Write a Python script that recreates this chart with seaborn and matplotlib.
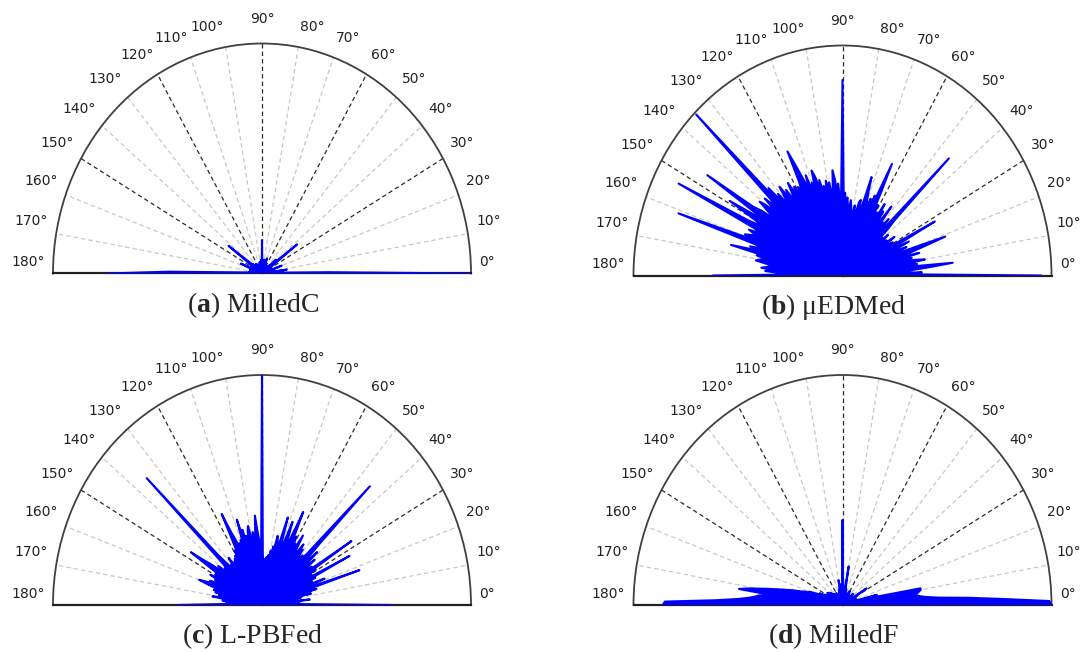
import numpy as np
import matplotlib.pyplot as plt
import seaborn as sns

# Texture direction roses, one radius value per degree (0..180), normalised to the outer arc
angles = list(range(0, 181))

milled_c = [
    1.00, 0.32, 0.12, 0.07, 0.10, 0.05, 0.08, 0.04, 0.12, 0.05,
    0.06, 0.04, 0.05, 0.03, 0.05, 0.04, 0.06, 0.04, 0.05, 0.06,
    0.10, 0.05, 0.03, 0.04, 0.03, 0.05, 0.03, 0.04, 0.03, 0.05,
    0.04, 0.03, 0.05, 0.04, 0.06, 0.07, 0.12, 0.21, 0.08, 0.05,
    0.06, 0.05, 0.09, 0.04, 0.05, 0.03, 0.04, 0.03, 0.04, 0.03,
    0.03, 0.04, 0.02, 0.03, 0.04, 0.03, 0.02, 0.03, 0.04, 0.03,
    0.04, 0.03, 0.02, 0.03, 0.04, 0.03, 0.05, 0.04, 0.03, 0.05,
    0.07, 0.04, 0.03, 0.04, 0.03, 0.05, 0.04, 0.03, 0.04, 0.05,
    0.06, 0.04, 0.05, 0.04, 0.06, 0.05, 0.04, 0.05, 0.06, 0.05,
    0.145, 0.05, 0.06, 0.04, 0.05, 0.06, 0.04, 0.05, 0.04, 0.03,
    0.05, 0.04, 0.03, 0.04, 0.05, 0.03, 0.04, 0.03, 0.04, 0.03,
    0.03, 0.04, 0.03, 0.02, 0.03, 0.04, 0.03, 0.02, 0.03, 0.04,
    0.03, 0.04, 0.03, 0.04, 0.05, 0.03, 0.04, 0.03, 0.05, 0.04,
    0.04, 0.05, 0.03, 0.04, 0.05, 0.04, 0.05, 0.06, 0.05, 0.06,
    0.07, 0.09, 0.11, 0.20, 0.08, 0.06, 0.05, 0.06, 0.04, 0.05,
    0.04, 0.05, 0.04, 0.06, 0.05, 0.07, 0.08, 0.11, 0.06, 0.05,
    0.04, 0.05, 0.04, 0.05, 0.04, 0.06, 0.04, 0.05, 0.04, 0.05,
    0.04, 0.06, 0.05, 0.04, 0.06, 0.05, 0.07, 0.09, 0.15, 0.45, 0.74,
]

uedm_ed = [
    0.95, 0.30, 0.38, 0.25, 0.33, 0.42, 0.53, 0.30, 0.36, 0.28,
    0.40, 0.36, 0.30, 0.34, 0.27, 0.38, 0.30, 0.33, 0.41, 0.52,
    0.30, 0.26, 0.33, 0.25, 0.29, 0.35, 0.24, 0.31, 0.50, 0.26,
    0.22, 0.28, 0.21, 0.25, 0.30, 0.22, 0.26, 0.20, 0.24, 0.28,
    0.22, 0.25, 0.23, 0.30, 0.35, 0.72, 0.28, 0.24, 0.33, 0.27,
    0.30, 0.25, 0.38, 0.29, 0.26, 0.34, 0.30, 0.37, 0.28, 0.32,
    0.26, 0.35, 0.30, 0.41, 0.54, 0.33, 0.38, 0.29, 0.36, 0.31,
    0.34, 0.38, 0.45, 0.30, 0.27, 0.34, 0.33, 0.28, 0.26, 0.31,
    0.28, 0.25, 0.30, 0.33, 0.28, 0.30, 0.34, 0.31, 0.36, 0.33,
    0.85, 0.36, 0.33, 0.40, 0.36, 0.42, 0.46, 0.38, 0.35, 0.41,
    0.38, 0.42, 0.36, 0.40, 0.37, 0.43, 0.39, 0.45, 0.48, 0.40,
    0.43, 0.38, 0.47, 0.41, 0.45, 0.52, 0.60, 0.46, 0.41, 0.44,
    0.40, 0.45, 0.41, 0.48, 0.43, 0.39, 0.46, 0.42, 0.49, 0.44,
    0.40, 0.47, 0.43, 0.52, 0.46, 0.99, 0.48, 0.44, 0.50, 0.42,
    0.47, 0.51, 0.45, 0.41, 0.48, 0.52, 0.78, 0.46, 0.50, 0.63,
    0.48, 0.44, 0.51, 0.88, 0.47, 0.43, 0.49, 0.45, 0.47, 0.50,
    0.46, 0.83, 0.44, 0.40, 0.46, 0.42, 0.55, 0.39, 0.42, 0.37,
    0.40, 0.42, 0.37, 0.33, 0.36, 0.39, 0.34, 0.37, 0.30, 0.25, 0.62,
]

lpbf_ed = [
    0.62, 0.21, 0.15, 0.18, 0.12, 0.16, 0.23, 0.14, 0.17, 0.13,
    0.19, 0.15, 0.24, 0.16, 0.20, 0.27, 0.18, 0.22, 0.49, 0.21,
    0.25, 0.32, 0.22, 0.26, 0.20, 0.28, 0.23, 0.47, 0.24, 0.27,
    0.22, 0.30, 0.26, 0.51, 0.25, 0.29, 0.23, 0.27, 0.32, 0.24,
    0.28, 0.35, 0.26, 0.30, 0.38, 0.73, 0.31, 0.26, 0.29, 0.24,
    0.27, 0.31, 0.25, 0.33, 0.28, 0.26, 0.30, 0.36, 0.27, 0.31,
    0.29, 0.34, 0.28, 0.36, 0.45, 0.30, 0.27, 0.33, 0.39, 0.28,
    0.25, 0.30, 0.40, 0.27, 0.24, 0.29, 0.31, 0.23, 0.26, 0.21,
    0.24, 0.20, 0.22, 0.19, 0.21, 0.18, 0.20, 0.17, 0.19, 0.22,
    1.00, 0.23, 0.26, 0.29, 0.33, 0.39, 0.31, 0.28, 0.32, 0.27,
    0.30, 0.35, 0.33, 0.27, 0.31, 0.28, 0.34, 0.30, 0.39, 0.27,
    0.30, 0.25, 0.29, 0.26, 0.31, 0.35, 0.44, 0.29, 0.24, 0.27,
    0.22, 0.25, 0.21, 0.24, 0.20, 0.23, 0.19, 0.22, 0.26, 0.20,
    0.23, 0.19, 0.22, 0.25, 0.30, 0.78, 0.27, 0.21, 0.24, 0.20,
    0.23, 0.27, 0.21, 0.25, 0.30, 0.34, 0.41, 0.28, 0.22, 0.26,
    0.20, 0.24, 0.28, 0.22, 0.25, 0.19, 0.23, 0.27, 0.24, 0.28,
    0.32, 0.27, 0.22, 0.19, 0.24, 0.20, 0.23, 0.18, 0.21, 0.17,
    0.20, 0.24, 0.18, 0.16, 0.19, 0.15, 0.17, 0.14, 0.16, 0.21, 0.40,
]

milled_f = [
    1.00, 0.99, 0.76, 0.60, 0.46, 0.40, 0.37, 0.35, 0.36, 0.37,
    0.38, 0.38, 0.21, 0.14, 0.10, 0.17, 0.08, 0.06, 0.07, 0.05,
    0.06, 0.05, 0.07, 0.05, 0.04, 0.06, 0.05, 0.04, 0.05, 0.06,
    0.08, 0.06, 0.136, 0.07, 0.05, 0.06, 0.04, 0.05, 0.06, 0.04,
    0.05, 0.04, 0.06, 0.05, 0.07, 0.05, 0.04, 0.05, 0.04, 0.03,
    0.04, 0.05, 0.03, 0.04, 0.03, 0.05, 0.04, 0.06, 0.05, 0.04,
    0.07, 0.04, 0.03, 0.05, 0.04, 0.03, 0.04, 0.05, 0.03, 0.04,
    0.05, 0.04, 0.06, 0.04, 0.05, 0.07, 0.05, 0.06, 0.08, 0.10,
    0.17, 0.07, 0.06, 0.05, 0.07, 0.06, 0.08, 0.06, 0.09, 0.12,
    0.37, 0.10, 0.07, 0.06, 0.08, 0.06, 0.07, 0.09, 0.06, 0.08,
    0.11, 0.06, 0.05, 0.07, 0.05, 0.04, 0.06, 0.05, 0.04, 0.05,
    0.04, 0.05, 0.03, 0.04, 0.05, 0.04, 0.03, 0.04, 0.05, 0.04,
    0.06, 0.04, 0.05, 0.03, 0.04, 0.05, 0.04, 0.06, 0.05, 0.04,
    0.05, 0.04, 0.06, 0.05, 0.04, 0.07, 0.05, 0.06, 0.08, 0.05,
    0.06, 0.05, 0.07, 0.06, 0.09, 0.06, 0.05, 0.07, 0.06, 0.08,
    0.07, 0.09, 0.08, 0.10, 0.09, 0.12, 0.10, 0.11, 0.13, 0.15,
    0.17, 0.16, 0.19, 0.20, 0.22, 0.25, 0.27, 0.30, 0.33, 0.37,
    0.41, 0.46, 0.50, 0.31, 0.40, 0.42, 0.45, 0.50, 0.60, 0.85, 0.86,
]

letters = ['a', 'b', 'c', 'd']
names = ['MilledC', 'μEDMed', 'L-PBFed', 'MilledF']
profiles = [milled_c, uedm_ed, lpbf_ed, milled_f]
grid_deg = list(range(0, 181, 10))

sns.set_style('white')
plt.rcParams['font.family'] = ['DejaVu Sans']
plt.rcParams['mathtext.fontset'] = 'custom'
plt.rcParams['mathtext.rm'] = 'Liberation Serif'
plt.rcParams['mathtext.bf'] = 'Liberation Serif:bold'

W, H = 1082, 652
fig = plt.figure(figsize=(W / 100, H / 100), dpi=100)

# centre x and baseline y of each half-rose in pixels, radii of the (slightly stretched) arc
centres = [(262, 273.5), (842.5, 275.5), (262, 605), (842.5, 605)]
rx, ry = 209, 230

for letter, name, prof, (cx, cy) in zip(letters, names, profiles, centres):
    # polar wedge bbox is padded to square, so the half-disc fills the middle half of the box height
    ax = fig.add_axes([(cx - rx) / W, 1 - (cy + 0.5 * ry) / H, 2 * rx / W, 2 * ry / H],
                      projection='polar')
    ax.set_thetamin(0)
    ax.set_thetamax(180)
    ax.set_aspect('auto')

    theta = np.deg2rad(angles)
    ax.fill(theta, prof, color='#0000ff', lw=0, zorder=3)
    sns.lineplot(x=theta, y=prof, ax=ax, color='#0000ff', lw=1.5,
                 estimator=None, sort=False, zorder=3)

    ax.set_ylim(0, 1)
    ax.set_yticks([])
    ax.set_xticks(np.deg2rad(grid_deg))
    ax.set_xticklabels([])
    ax.set_xlabel('')
    ax.set_ylabel('')
    ax.tick_params(axis='x', length=0)
    ax.xaxis.grid(True, color='#c8c8c8', linestyle=(0, (3.5, 2.5)), linewidth=0.9)
    for d, gl in zip(grid_deg, ax.xaxis.get_gridlines()):
        if d % 30 == 0:
            gl.set_color('#2a2a2a')

    ax.spines['polar'].set_color('#404040')
    ax.spines['polar'].set_linewidth(1.3)
    for s in ['start', 'end']:
        ax.spines[s].set_color('#202020')
        ax.spines[s].set_linewidth(1.6)
    ax.spines['inner'].set_visible(False)

    # degree labels just outside the arc, all lifted by the same few pixels
    for d in grid_deg:
        if d < 90:
            ha, r = 'left', 1.04
        elif d > 90:
            ha, r = 'right', 1.04
        else:
            ha, r = 'center', 1.06
        ax.annotate(f'{d}°', xy=(np.deg2rad(d), r), xytext=(0, 8),
                    textcoords='offset points', ha=ha, va='center',
                    fontsize=10, color='#222222', annotation_clip=False)

    fig.text((cx - 9) / W, 1 - (cy + 31.5) / H,
             '(' + r'$\mathbf{' + letter + '}$' + ') ' + name,
             ha='center', va='center', fontsize=20, family='Liberation Serif')

fig.savefig('out.png', dpi=100)
